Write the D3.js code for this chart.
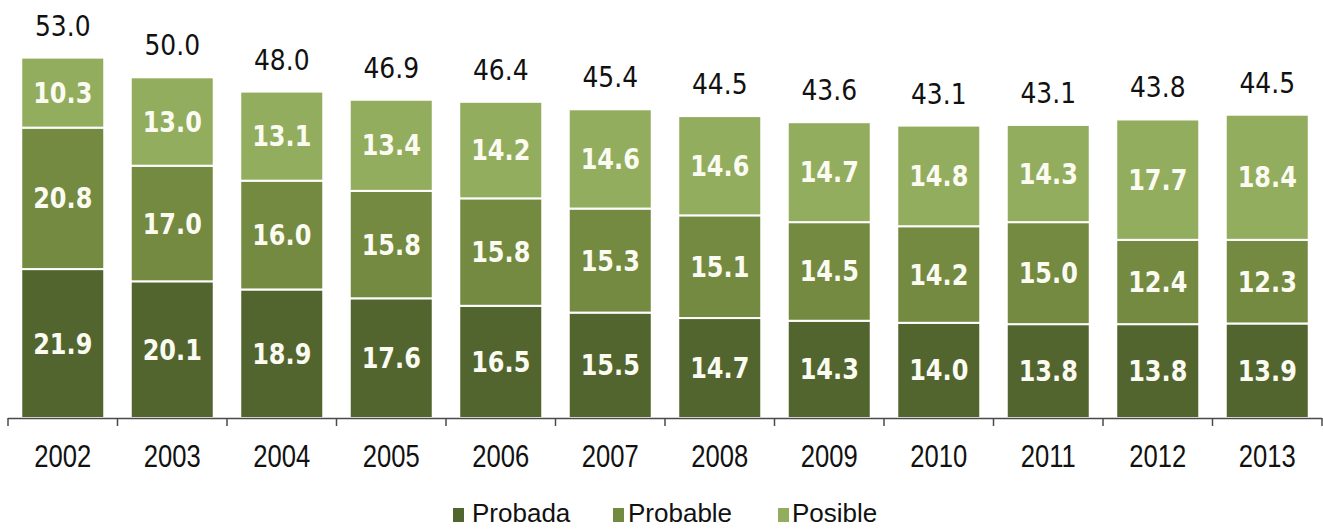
<!DOCTYPE html>
<html>
<head>
<meta charset="utf-8">
<script src="https://cdn.jsdelivr.net/npm/d3@7/dist/d3.min.js"></script>
<style>
  html, body { margin: 0; padding: 0; background: #fff; }
  svg { display: block; }
</style>
</head>
<body>
<svg id="chart" width="1323" height="529"></svg>
<script>
// Reservas por categoría, 2002–2013
const years    = ["2002","2003","2004","2005","2006","2007","2008","2009","2010","2011","2012","2013"];
const probada  = [21.9, 20.1, 18.9, 17.6, 16.5, 15.5, 14.7, 14.3, 14.0, 13.8, 13.8, 13.9];
const probable = [20.8, 17.0, 16.0, 15.8, 15.8, 15.3, 15.1, 14.5, 14.2, 15.0, 12.4, 12.3];
const posible  = [10.3, 13.0, 13.1, 13.4, 14.2, 14.6, 14.6, 14.7, 14.8, 14.3, 17.7, 18.4];
const totals   = [53.0, 50.0, 48.0, 46.9, 46.4, 45.4, 44.5, 43.6, 43.1, 43.1, 43.8, 44.5];
const seriesNames = ["Probada", "Probable", "Posible"];

const colors = { Probada: "#52652e", Probable: "#738a40", Posible: "#93ad5e" };

const svg = d3.select("#chart");
const baseY = 418;

const x = d3.scaleBand()
  .domain(years)
  .range([8, 1322])
  .paddingInner(0.242)
  .paddingOuter(0.121);

const y = d3.scaleLinear()
  .domain([0, 60])
  .range([baseY, baseY - 60 * 6.8]);

const table = years.map((yr, i) => ({
  year: yr,
  Probada: probada[i],
  Probable: probable[i],
  Posible: posible[i],
  total: totals[i]
}));

const stacked = d3.stack().keys(seriesNames)(table);

// Stacked bars with white separators
const layers = svg.append("g").selectAll("g")
  .data(stacked)
  .join("g")
  .attr("fill", d => colors[d.key]);

layers.selectAll("rect")
  .data(d => d)
  .join("rect")
  .attr("x", d => x(d.data.year))
  .attr("width", x.bandwidth())
  .attr("y", d => y(d[1]))
  .attr("height", d => y(d[0]) - y(d[1]))
  .attr("stroke", "#fff")
  .attr("stroke-width", 2);

// Values inside each segment
layers.selectAll("text")
  .data(d => d.map(v => ({ v, key: d.key })))
  .join("text")
  .attr("transform", d => {
    const cx = x(d.v.data.year) + x.bandwidth() / 2;
    const cy = (y(d.v[0]) + y(d.v[1])) / 2 + 10;
    return `translate(${cx},${cy}) scale(1,1.15)`;
  })
  .attr("text-anchor", "middle")
  .attr("font-family", "DejaVu Sans, Verdana, sans-serif")
  .attr("font-weight", "bold")
  .attr("font-size", 24)
  .attr("fill", "#fbfbf2")
  .text(d => d.v.data[d.key].toFixed(1));

// Totals above the bars
svg.append("g").selectAll("text")
  .data(table)
  .join("text")
  .attr("transform", d => {
    const cx = x(d.year) + x.bandwidth() / 2;
    const top = y(d.Probada + d.Probable + d.Posible);
    return `translate(${cx},${top - 22}) scale(1,1.1)`;
  })
  .attr("text-anchor", "middle")
  .attr("font-family", "DejaVu Sans, Verdana, sans-serif")
  .attr("font-size", 25)
  .attr("fill", "#111")
  .text(d => d.total.toFixed(1));

// Category axis: baseline with ticks between the categories
const axisG = svg.append("g");
axisG.append("line")
  .attr("x1", x.range()[0]).attr("x2", x.range()[1])
  .attr("y1", baseY + 0.5).attr("y2", baseY + 0.5)
  .attr("stroke", "#4a4a4a").attr("stroke-width", 1.5);

const step = x.step();
const bounds = d3.range(years.length + 1).map(i => x.range()[0] + i * step);
axisG.selectAll("line.tick")
  .data(bounds)
  .join("line")
  .attr("class", "tick")
  .attr("x1", d => d).attr("x2", d => d)
  .attr("y1", baseY).attr("y2", baseY + 8)
  .attr("stroke", "#4a4a4a").attr("stroke-width", 1.5);

axisG.selectAll("text")
  .data(years)
  .join("text")
  .attr("transform", d => `translate(${x(d) + x.bandwidth() / 2},${467}) scale(0.8,1)`)
  .attr("text-anchor", "middle")
  .attr("font-family", "Liberation Sans, Arial, sans-serif")
  .attr("font-size", 32)
  .attr("fill", "#111")
  .text(d => d);

// Legend
const legendItems = [
  { key: "Probada",  sx: 453, tx: 472 },
  { key: "Probable", sx: 613, tx: 628 },
  { key: "Posible",  sx: 778, tx: 792 }
];
const legend = svg.append("g");
legend.selectAll("rect")
  .data(legendItems)
  .join("rect")
  .attr("x", d => d.sx).attr("y", 508)
  .attr("width", 11).attr("height", 14)
  .attr("fill", d => colors[d.key]);
legend.selectAll("text")
  .data(legendItems)
  .join("text")
  .attr("x", d => d.tx).attr("y", 522)
  .attr("font-family", "Liberation Sans, Arial, sans-serif")
  .attr("font-size", 26)
  .attr("fill", "#111")
  .text(d => d.key);
</script>
</body>
</html>
